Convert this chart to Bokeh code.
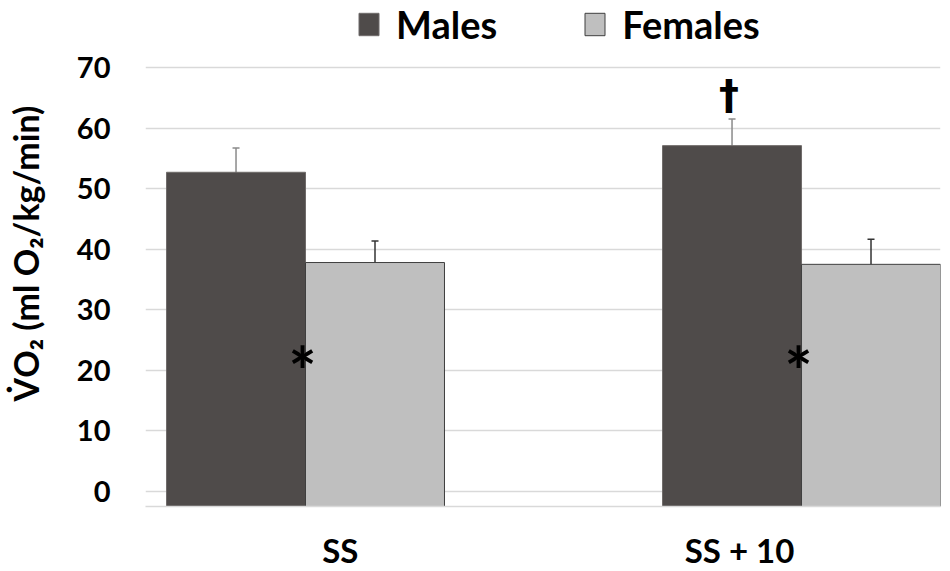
from bokeh.plotting import figure
from bokeh.models import (ColumnDataSource, Range1d, FixedTicker, Legend, LegendItem,
                          Whisker, TeeHead)
from bokeh.core.properties import value
from bokeh.embed import file_html
from bokeh.resources import INLINE

# ---------------- data ----------------
categories = ["SS", "SS + 10"]
males = [52.7, 57.1]
females = [37.8, 37.5]
males_err = [4.0, 4.4]
females_err = [3.55, 4.15]
y_ticks = [0, 10, 20, 30, 40, 50, 60, 70]
star_cats = ["SS", "SS + 10"]      # * : females differ from males
star_y = [20.0, 20.0]
dagger_cats = ["SS + 10"]          # † : differs from SS (males)
dagger_y = [65.5]

# ---------------- style ----------------
FONT = "Lato"
BAR_W = 0.2802
MALE_C = "#4f4b4a"
FEMALE_C = "#bfbfbf"
label_shift = [0.07, -0.125]       # x-label placement offsets (style)

idx = {c: i for i, c in enumerate(categories)}
xs = list(range(len(categories)))
src_m = ColumnDataSource(dict(
    x=[i - BAR_W / 2 for i in xs], top=males,
    upper=[m + e for m, e in zip(males, males_err)],
    lower=[m - e for m, e in zip(males, males_err)]))
src_f = ColumnDataSource(dict(
    x=[i + BAR_W / 2 for i in xs], top=females,
    upper=[m + e for m, e in zip(females, females_err)],
    lower=[m - e for m, e in zip(females, females_err)]))

y0 = -2.48
# frame extends to the top edge so the legend (drawn inside the frame) is not clipped
p = figure(frame_width=795, frame_height=506, output_backend="svg", toolbar_location=None,
           x_range=Range1d(-0.3226, 1.2802), y_range=Range1d(y0, 81.06),
           min_border_left=145, min_border_right=8, min_border_top=0,
           min_border_bottom=40)
p.outline_line_color = None
p.background_fill_color = "white"

rm = p.vbar(x="x", top="top", bottom=y0, width=BAR_W, source=src_m,
            fill_color=MALE_C, line_color="#6f6b6a", line_width=1)
rf = p.vbar(x="x", top="top", bottom=y0, width=BAR_W, source=src_f,
            fill_color=FEMALE_C, line_color="#3f3f3f", line_width=1)

p.add_layout(Whisker(base="x", upper="upper", lower="lower", source=src_m,
                     line_color="#8a8a8a", line_width=1.5,
                     upper_head=TeeHead(size=7, line_color="#8a8a8a", line_width=1.5),
                     lower_head=TeeHead(size=7, line_color="#8a8a8a", line_width=1.5)))
p.add_layout(Whisker(base="x", upper="upper", lower="lower", source=src_f,
                     line_color="#333333", line_width=1.5,
                     upper_head=TeeHead(size=7, line_color="#333333", line_width=1.5),
                     lower_head=TeeHead(size=7, line_color="#333333", line_width=1.5)))

# significance markers
p.text(x=[idx[c] for c in star_cats], y=star_y, text=["*"] * len(star_cats),
       text_font=value(FONT), text_font_style="bold", text_font_size="66px",
       text_align="center", text_baseline="middle", text_color="black",
       x_offset=-3)
p.text(x=[idx[c] - BAR_W / 2 for c in dagger_cats], y=dagger_y, text=["†"] * len(dagger_cats),
       text_font=value("DejaVu Sans"), text_font_style="bold", text_font_size="40px",
       text_align="center", text_baseline="middle", text_color="black",
       x_offset=-3)

# axes
p.yaxis.ticker = FixedTicker(ticks=y_ticks)
p.yaxis.axis_line_color = None
p.yaxis.major_tick_line_color = None
p.yaxis.minor_tick_line_color = None
p.yaxis.major_label_standoff = 29
p.yaxis.major_label_text_font = FONT
p.yaxis.major_label_text_font_style = "bold"
p.yaxis.major_label_text_font_size = "29px"
p.yaxis.major_label_text_color = "black"
p.yaxis.axis_label = "V\u0307O\u2082 (ml O\u2082/kg/min)"
p.yaxis.axis_label_text_font = FONT
p.yaxis.axis_label_text_font_style = "bold"
p.yaxis.axis_label_text_font_size = "34px"
p.yaxis.axis_label_text_color = "black"
p.yaxis.axis_label_standoff = 28

tick_pos = [i + s for i, s in zip(xs, label_shift)]
p.xaxis.ticker = FixedTicker(ticks=tick_pos)
p.xaxis.major_label_overrides = {t: c for t, c in zip(tick_pos, categories)}
p.xaxis.axis_line_color = "#d9d9d9"
p.xaxis.axis_line_width = 1.5
p.xaxis.major_tick_line_color = None
p.xaxis.minor_tick_line_color = None
p.xaxis.major_label_standoff = 17
p.xaxis.major_label_text_font = FONT
p.xaxis.major_label_text_font_style = "bold"
p.xaxis.major_label_text_font_size = "33px"
p.xaxis.major_label_text_color = "black"

p.xgrid.grid_line_color = None
p.ygrid.grid_line_color = "#d9d9d9"
p.ygrid.grid_line_width = 1.5

legend = Legend(items=[LegendItem(label="Males", renderers=[rm]),
                       LegendItem(label="Females", renderers=[rf])],
                orientation="horizontal", location=(211, 459),
                glyph_width=25, glyph_height=28, label_standoff=15, spacing=85,
                padding=0, margin=0, border_line_alpha=0, background_fill_alpha=0,
                label_text_font=FONT, label_text_font_style="bold",
                label_text_font_size="38px", label_text_color="black")
p.add_layout(legend)

open("out.html", "w").write(file_html(p, INLINE))
